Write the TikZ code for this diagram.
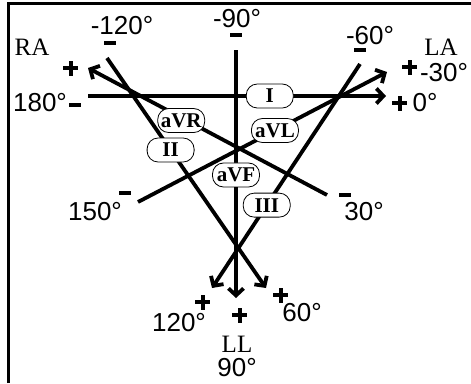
\documentclass[tikz,border=0pt]{standalone}
\usepackage{fontspec}
\setmainfont{Liberation Serif}
\setsansfont{Liberation Sans}
\usetikzlibrary{arrows.meta}
\newcommand{\negsign}{\rule{12pt}{4.5pt}}
\newcommand{\possign}{\rlap{\rule[5.5pt]{15pt}{4pt}}\hspace{5.5pt}\rule{4pt}{15pt}\hspace{5.5pt}}

\begin{document}
\begin{tikzpicture}[x=1pt, y=-1pt,
    lead/.style={line width=3.8pt, -{Straight Barb[length=7pt, width=15pt]}},
    leadlabel/.style={draw, line width=0.8pt, fill=white, rounded corners=11pt,
        minimum width=47pt, minimum height=24pt, inner sep=0pt,
        font=\rmfamily\bfseries\fontsize{21}{21}\selectfont},
    degree/.style={inner sep=0pt, font=\sffamily\fontsize{26}{26}\selectfont},
    limb/.style={inner sep=0pt, font=\rmfamily\fontsize{25}{25}\selectfont},
    sign/.style={inner sep=0pt}]
    \useasboundingbox (0,0) rectangle (471,383);
    % frame
    \draw[line width=3pt] (8,383) -- (8,3) -- (471,3);

    % lead ends
    \coordinate (Im) at (88,96);     \coordinate (Ip) at (386,96);
    \coordinate (IIm) at (107,58);   \coordinate (IIp) at (266,288);
    \coordinate (IIIm) at (360,64);  \coordinate (IIIp) at (212,288);
    \coordinate (aVRm) at (327,195); \coordinate (aVRp) at (88,68);
    \coordinate (aVLm) at (138,202); \coordinate (aVLp) at (387,72);
    \coordinate (aVFm) at (236,50);  \coordinate (aVFp) at (236,298);

    % leads
    \draw[lead] (Im) -- (Ip);
    \draw[lead] (IIm) -- (IIp);
    \draw[lead] (IIIm) -- (IIIp);
    \draw[lead] (aVRm) -- (aVRp);
    \draw[lead] (aVLm) -- (aVLp);
    \draw[lead] (aVFm) -- (aVFp);

    % lead names
    \path (Im) -- (Ip) node[leadlabel, pos=0.61] (labI) {I};
    \path (IIm) -- (IIp) node[leadlabel, pos=0.40] (labII) {II};
    \path (IIIm) -- (IIIp) node[leadlabel, pos=0.63] (labIII) {III};
    \path (aVRm) -- (aVRp) node[leadlabel, pos=0.61, yshift=-3pt] (labaVR) {aVR};
    \path (aVLm) -- (aVLp) node[leadlabel, pos=0.55] (labaVL) {aVL};
    \path (aVFm) -- (aVFp) node[leadlabel, pos=0.504] (labaVF) {aVF};

    % signs
    \node[sign] (negII) at (110,43) {\negsign};
    \node[sign] (negaVF) at (236,35) {\negsign};
    \node[sign] (negIII) at (360,50) {\negsign};
    \node[sign] (negI) at (75,105) {\negsign};
    \node[sign] (negaVL) at (125,193) {\negsign};
    \node[sign] (negaVR) at (345,195) {\negsign};
    \node[sign] (posaVR) at (68,68) {\possign};
    \node[sign] (posaVL) at (407,67) {\possign};
    \node[sign] (posI) at (397,103) {\possign};
    \node[sign] (posIII) at (200,302) {\possign};
    \node[sign] (posaVF) at (237,315) {\possign};
    \node[sign] (posII) at (278,295) {\possign};

    % angles
    \node[degree] (dm120) at (122,26) {-120°};
    \node[degree] (dm90) at (237,19) {-90°};
    \node[degree] (dm60) at (370,36) {-60°};
    \node[degree] (dm30) at (444,73) {-30°};
    \node[degree] (d0) at (425,103) {0°};
    \node[degree] (d180) at (40,103) {180°};
    \node[degree] (d150) at (95,212) {150°};
    \node[degree] (d30) at (364,212) {30°};
    \node[degree] (d120) at (179,323) {120°};
    \node[degree] (d60) at (302,313) {60°};
    \node[degree] (d90) at (237,368) {90°};

    % limbs
    \node[limb] (ra) at (32,47) {RA};
    \node[limb] (la) at (441,47) {LA};
    \node[limb] (ll) at (237,344) {LL};
\end{tikzpicture}
\end{document}
